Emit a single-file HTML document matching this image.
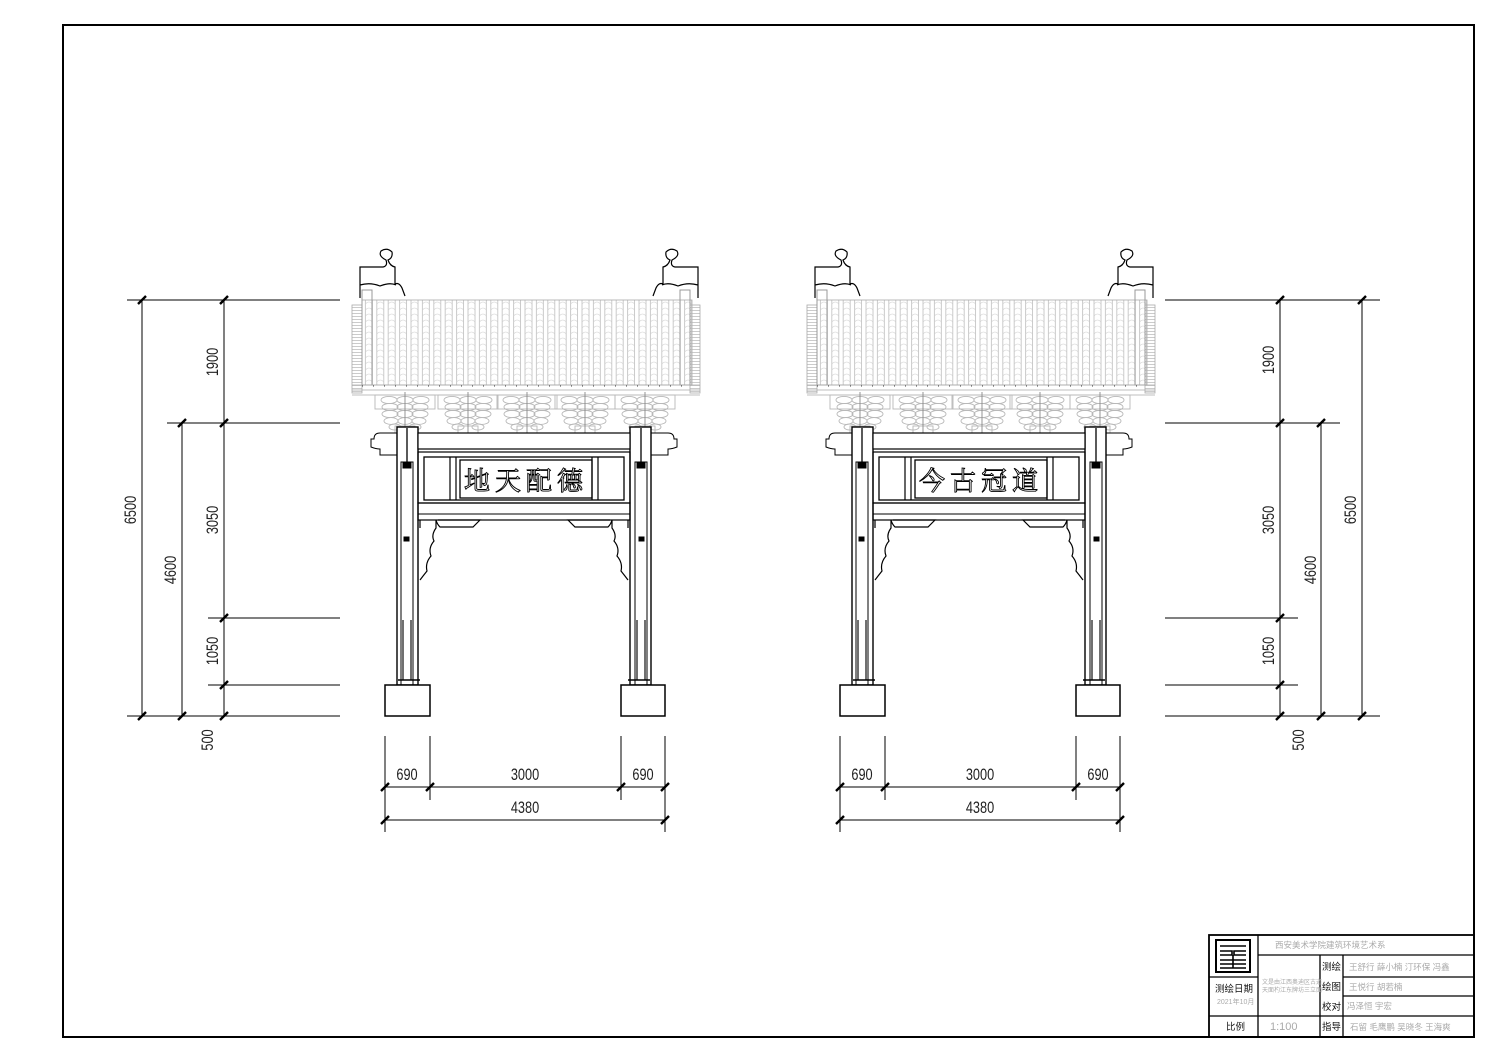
<!DOCTYPE html>
<html><head><meta charset="utf-8"><style>
html,body{margin:0;padding:0;background:#fff;}
svg{display:block;}
.t{font-family:"Liberation Sans",sans-serif;font-size:15px;fill:#222;}
.c{font-family:"Liberation Sans","Noto Sans CJK SC",sans-serif;}
</style></head><body>
<svg width="1500" height="1061" viewBox="0 0 1500 1061" xmlns="http://www.w3.org/2000/svg">
<defs>
<pattern id="tile" x="352" y="300" width="11.4" height="6" patternUnits="userSpaceOnUse">
<path d="M2 0V6M9 0V6" stroke="#b4b4b4" stroke-width="0.7"/>
<path d="M2 4Q5.5 0 9 4" stroke="#cfcfcf" stroke-width="0.6" fill="none"/>
</pattern>
<pattern id="hl" x="0" y="0" width="10" height="3" patternUnits="userSpaceOnUse">
<path d="M0 1.5H10" stroke="#b4b4b4" stroke-width="0.7"/>
</pattern>
<g id="dg" fill="none" stroke="#b8b8b8" stroke-width="0.9">
<rect x="-30" y="395" width="60" height="14"/>
<ellipse cx="-16" cy="400" rx="8" ry="3.6"/><ellipse cx="0" cy="400" rx="8" ry="3.6"/><ellipse cx="16" cy="400" rx="8" ry="3.6"/>
<ellipse cx="-15" cy="407" rx="8" ry="3.6"/><ellipse cx="0" cy="407" rx="8" ry="3.6"/><ellipse cx="15" cy="407" rx="8" ry="3.6"/>
<ellipse cx="-15" cy="414" rx="8" ry="3.6"/><ellipse cx="0" cy="414" rx="8" ry="3.6"/><ellipse cx="15" cy="414" rx="8" ry="3.6"/>
<ellipse cx="-14" cy="421" rx="7" ry="3.4"/><ellipse cx="0" cy="421" rx="7" ry="3.4"/><ellipse cx="14" cy="421" rx="7" ry="3.4"/>
<ellipse cx="-10" cy="427" rx="6" ry="3"/><ellipse cx="10" cy="427" rx="6" ry="3"/>
<rect x="-10" y="426" width="20" height="7"/>
<path d="M0 392V433" stroke="#888"/>
</g>
<g id="arch" stroke="#000" fill="none" stroke-width="1">
<rect x="362" y="300" width="330" height="85" fill="url(#tile)" stroke="#aaa" stroke-width="0.8"/>
<rect x="352" y="305" width="10" height="88" fill="url(#hl)" stroke="#aaa" stroke-width="0.8"/>
<rect x="690" y="305" width="10" height="88" fill="url(#hl)" stroke="#aaa" stroke-width="0.8"/>
<rect x="362" y="290" width="10" height="95" stroke="#999"/>
<rect x="680" y="290" width="10" height="95" stroke="#999"/>
<path d="M352 385H700M352 390H700M352 395H700" stroke="#aaa" stroke-width="0.8"/>
<path d="M362 386H692" stroke="#444" stroke-width="1" stroke-dasharray="1 10"/>
<path d="M360 298V267H383Q388 266 386 260Q378 256 381 251Q387 247 392 252Q393 258 388 260Q390 266 395 267V284Q399 282 402 288L405 296M360 285Q370 282 380 286Q390 282 396 285" stroke-width="1.2"/>
<path d="M698 298V267H675Q670 266 672 260Q680 256 677 251Q671 247 666 252Q665 258 670 260Q668 266 663 267V284Q659 282 656 288L653 296M698 285Q688 282 678 286Q668 282 662 285" stroke-width="1.2"/>
<use href="#dg" x="405"/><use href="#dg" x="468"/><use href="#dg" x="527"/><use href="#dg" x="585"/><use href="#dg" x="645"/>
<rect x="397" y="427" width="21" height="258" stroke-width="1.4" fill="#fff"/>
<rect x="630" y="427" width="21" height="258" stroke-width="1.4" fill="#fff"/>
<path d="M407 428V462M641 428V462" stroke-width="1.3"/>
<rect x="401" y="462" width="12" height="223"/><rect x="635" y="462" width="12" height="223"/>
<rect x="403" y="463" width="8" height="5" fill="#000"/><rect x="637" y="463" width="8" height="5" fill="#000"/>
<rect x="404" y="537" width="5" height="4" fill="#000"/><rect x="639" y="537" width="5" height="4" fill="#000"/>
<path d="M403 620V680M411 620V680M637 620V680M645 620V680" stroke-width="1.4" stroke="#333"/>
<path d="M398 680H420M628 680H650" stroke-width="1.5"/>
<path d="M397 433H380Q374 433 374 439H371V447Q376 449 380 449V455H397"/>
<path d="M651 433H668Q674 433 674 439H677V447Q672 449 668 449V455H651"/>
<rect x="418" y="433" width="212" height="16" stroke-width="1.2" fill="#fff"/>
<rect x="418" y="452" width="212" height="51" stroke-width="1.2"/>
<rect x="424" y="457" width="200" height="43" stroke-width="1.3"/>
<path d="M450 457V500M456 457V500M592 457V500M598 457V500" stroke-width="1.2"/>
<rect x="460" y="460" width="132" height="38" stroke-width="1.3"/>
<rect x="418" y="503" width="212" height="17" stroke-width="1.2"/>
<path d="M418 514H630"/>
<path d="M420 520V528M436 520V528Q431 535 434 541Q428 548 431 556Q425 563 427 571Q423 576 420 580M438 520H480Q476 524 473 527H440Q437 524 436 520" stroke-width="1.2"/>
<path d="M628 520V528M612 520V528Q617 535 614 541Q620 548 617 556Q623 563 621 571Q625 576 628 580M610 520H568Q572 524 575 527H608Q611 524 612 520" stroke-width="1.2"/>
<rect x="385" y="685" width="45" height="31" stroke-width="1.5" fill="#fff"/>
<rect x="621" y="685" width="44" height="31" stroke-width="1.5" fill="#fff"/>
</g>
</defs>
<rect x="63" y="25" width="1411" height="1012" fill="none" stroke="#000" stroke-width="2"/>
<use href="#arch"/>
<use href="#arch" x="455"/>
<g font-family="'Noto Serif CJK SC','Liberation Serif',serif" font-size="26" fill="#fff" stroke="#000" stroke-width="0.9" text-anchor="middle">
<text x="526" y="490" letter-spacing="5">地天配德</text>
<text x="981" y="490" letter-spacing="5">今古冠道</text>
</g>
<g stroke="#000" stroke-width="1">
<path d="M127 300H340M167 423H340M208 618H340M208 685H340M127 716H340"/>
<path d="M142 300V716M182 423V716M224 300V716"/>
<path d="M1165 300H1380M1165 423H1340M1165 618H1298M1165 685H1298M1165 716H1380"/>
<path d="M1362 300V716M1321 423V716M1280 300V716"/>
<path d="M385 736V832M430 736V800M621 736V800M665 736V832M385 787H665M385 820H665"/>
<path d="M840 736V832M885 736V800M1076 736V800M1120 736V832M840 787H1120M840 820H1120"/>
</g>
<g stroke="#000" stroke-width="2.4">
<path d="M138 304L146 296M138 720L146 712M178 427L186 419M178 720L186 712M220 304L228 296M220 427L228 419M220 622L228 614M220 689L228 681M220 720L228 712"/>
<path d="M1358 304L1366 296M1358 720L1366 712M1317 427L1325 419M1317 720L1325 712M1276 304L1284 296M1276 427L1284 419M1276 622L1284 614M1276 689L1284 681M1276 720L1284 712"/>
<path d="M381 791L389 783M426 791L434 783M617 791L625 783M661 791L669 783M381 824L389 816M661 824L669 816"/>
<path d="M836 791L844 783M881 791L889 783M1072 791L1080 783M1116 791L1124 783M836 824L844 816M1116 824L1124 816"/>
</g>
<g class="t" text-anchor="middle">
<text transform="translate(218,362) rotate(-90) scale(0.85,1.1)">1900</text>
<text transform="translate(218,520) rotate(-90) scale(0.85,1.1)">3050</text>
<text transform="translate(218,651) rotate(-90) scale(0.85,1.1)">1050</text>
<text transform="translate(176,570) rotate(-90) scale(0.85,1.1)">4600</text>
<text transform="translate(136,510) rotate(-90) scale(0.85,1.1)">6500</text>
<text transform="translate(213,740) rotate(-90) scale(0.85,1.1)">500</text>
<text transform="translate(1274,360) rotate(-90) scale(0.85,1.1)">1900</text>
<text transform="translate(1274,520) rotate(-90) scale(0.85,1.1)">3050</text>
<text transform="translate(1274,651) rotate(-90) scale(0.85,1.1)">1050</text>
<text transform="translate(1316,570) rotate(-90) scale(0.85,1.1)">4600</text>
<text transform="translate(1356,510) rotate(-90) scale(0.85,1.1)">6500</text>
<text transform="translate(1304,740) rotate(-90) scale(0.85,1.1)">500</text>
<text transform="translate(407,780) scale(0.85,1.1)">690</text><text transform="translate(525,780) scale(0.85,1.1)">3000</text><text transform="translate(643,780) scale(0.85,1.1)">690</text><text transform="translate(525,813) scale(0.85,1.1)">4380</text>
<text transform="translate(862,780) scale(0.85,1.1)">690</text><text transform="translate(980,780) scale(0.85,1.1)">3000</text><text transform="translate(1098,780) scale(0.85,1.1)">690</text><text transform="translate(980,813) scale(0.85,1.1)">4380</text>
</g>
<g stroke="#000" fill="none">
<rect x="1209" y="935" width="265" height="102" stroke-width="1.8"/>
<path d="M1258 935V1037M1209 977H1258M1209 1016H1474M1258 955H1474M1320 955V1037M1343 955V1037M1343 977H1474M1343 996H1474" stroke-width="1.3"/>
<rect x="1216" y="940" width="34" height="32" stroke-width="2"/>
<path d="M1220 946H1246M1220 951H1232V955H1220M1246 951H1234V955H1246M1220 960H1246M1220 964H1246M1220 968H1246M1233 955V968" stroke-width="1.6"/>
</g>
<g class="c" font-size="8.5" fill="#aaa">
<text x="1275" y="948">西安美术学院建筑环境艺术系</text>
<text x="1349" y="970">王舒行  薛小楠  汀环保  冯鑫</text>
<text x="1349" y="990">王悦行  胡若楠</text>
<text x="1347" y="1009">冯泽恒    宇宏</text>
<text x="1350" y="1030">石留 毛鹰鹏 吴晓冬 王海爽</text>
<text x="1262" y="984" font-size="6">文是由江西奥迪区古道</text>
<text x="1262" y="992" font-size="6">天面杓江东牌坊三立面</text>
<text x="1217" y="1004" font-size="7">2021年10月</text>
<text x="1270" y="1030" font-size="11">1:100</text>
</g>
<g class="c" font-size="9.5" fill="#111">
<text x="1322" y="970">测绘</text><text x="1322" y="990">绘图</text><text x="1322" y="1010">校对</text><text x="1322" y="1030">指导</text>
<text x="1215" y="992">测绘日期</text><text x="1226" y="1030">比例</text>
</g>
</svg>
</body></html>
